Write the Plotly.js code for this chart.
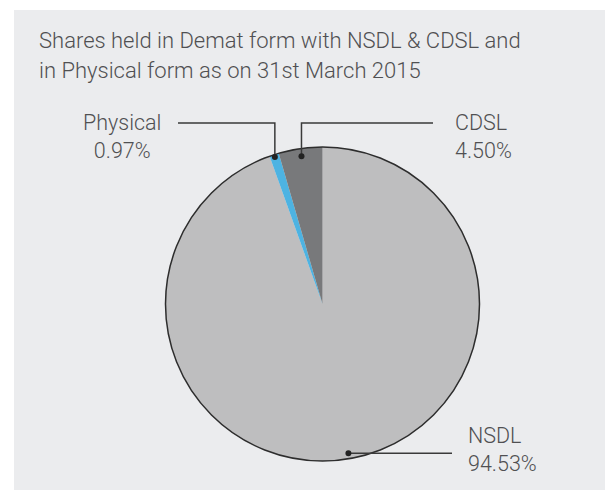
<!DOCTYPE html>
<html>
<head>
<meta charset="utf-8">
<script src="https://cdn.plot.ly/plotly-3.0.1.min.js"></script>
<style>html,body{margin:0;padding:0;background:#fff;}#chart{width:605px;height:490px;}</style>
</head>
<body>
<div id="chart"></div>
<script>
// ---- data ----
var categories = ["NSDL", "Physical", "CDSL"];
var shares = [94.53, 0.97, 4.50];
var valueLabels = ["94.53%", "0.97%", "4.50%"];
var colors = ["#bebebf", "#4db3e2", "#78797b"];
var titleLines = ["Shares held in Demat form with NSDL & CDSL and", "in Physical form as on 31st March 2015"];

// ---- layout geometry (pixels) ----
var W = 605, H = 490;
var cx = 322.5, cy = 304, R = 157;
var dom = {
  x: [(cx - R) / W, (cx + R) / W],
  y: [1 - (cy + R) / H, 1 - (cy - R) / H]
};

var pie = {
  type: "pie",
  labels: categories,
  values: shares,
  sort: false,
  direction: "clockwise",
  rotation: 0,
  textinfo: "none",
  hoverinfo: "label+percent",
  marker: { colors: colors, line: { width: 0 } },
  domain: dom,
  showlegend: false
};
var outline = {
  type: "pie",
  labels: ["outline"],
  values: [1],
  sort: false,
  textinfo: "none",
  hoverinfo: "skip",
  marker: { colors: ["rgba(0,0,0,0)"], line: { color: "#2d2d2d", width: 1.5 } },
  domain: dom,
  showlegend: false
};

// leader geometry: dot at the middle angle of each slice
var total = shares.reduce(function (a, b) { return a + b; }, 0);
var cum = 0, mids = [];
for (var i = 0; i < shares.length; i++) {
  var midFrac = (cum + shares[i] / 2) / total;
  cum += shares[i];
  mids.push(midFrac * 2 * Math.PI); // clockwise from top
}
function pt(k, rf) {
  return [cx + rf * R * Math.sin(mids[k]), cy - rf * R * Math.cos(mids[k])];
}
var labelRowY = 123;
var leaders = [
  { k: 0, rf: 0.965, path: function (p) { return [[p[0], p[1]], [452, p[1]]]; },
    label: { x: 466, y: 449, xanchor: "left", align: "left" } },
  { k: 1, rf: 0.985, path: function (p) { return [[p[0], p[1]], [p[0], labelRowY], [178, labelRowY]]; },
    label: { x: 122, y: 136.5, xanchor: "center", align: "center" } },
  { k: 2, rf: 0.95, path: function (p) { return [[p[0], p[1]], [p[0], labelRowY], [433, labelRowY]]; },
    label: { x: 453, y: 136.5, xanchor: "left", align: "left" } }
];

var shapes = [{
  type: "rect", xref: "x", yref: "y", x0: 14, x1: W + 2, y0: 10, y1: H + 2,
  fillcolor: "#ebecee", line: { width: 0 }, layer: "below"
}];
var annotations = [];
var lineColor = "#3a3a3a";
var fam = "Roboto, 'Open Sans', sans-serif";
var labelFont = { family: fam, size: 21.5, color: "#505052", weight: 300 };
var titleFont = { family: fam, size: 22, color: "#505052", weight: 300 };

leaders.forEach(function (L) {
  var p = pt(L.k, L.rf);
  var pts = L.path(p);
  var d = "M" + pts.map(function (q) { return q[0] + "," + q[1]; }).join(" L");
  shapes.push({ type: "path", xref: "x", yref: "y", path: d, line: { color: lineColor, width: 1.5 }, layer: "above" });
  shapes.push({ type: "circle", xref: "x", yref: "y", x0: p[0] - 3, x1: p[0] + 3, y0: p[1] - 3, y1: p[1] + 3,
    fillcolor: "#222", line: { width: 0 }, layer: "above" });
  annotations.push({
    xref: "x", yref: "y", x: L.label.x, y: L.label.y, xanchor: L.label.xanchor, yanchor: "middle",
    align: L.label.align, showarrow: false,
    text: categories[L.k] + "<br>" + valueLabels[L.k], font: labelFont
  });
});

annotations.push({ xref: "x", yref: "y", x: 37, y: 40, xanchor: "left", yanchor: "middle", showarrow: false,
  text: titleLines[0], font: titleFont });
annotations.push({ xref: "x", yref: "y", x: 37, y: 70, xanchor: "left", yanchor: "middle", showarrow: false,
  text: titleLines[1], font: titleFont });

var layout = {
  width: W, height: H,
  margin: { l: 0, r: 0, t: 0, b: 0, pad: 0 },
  paper_bgcolor: "#ffffff",
  plot_bgcolor: "rgba(0,0,0,0)",
  xaxis: { range: [0, W], visible: false, fixedrange: true },
  yaxis: { range: [H, 0], visible: false, fixedrange: true },
  shapes: shapes,
  annotations: annotations,
  showlegend: false
};

Plotly.newPlot("chart", [pie, outline], layout, { displayModeBar: false, staticPlot: true });
</script>
</body>
</html>
